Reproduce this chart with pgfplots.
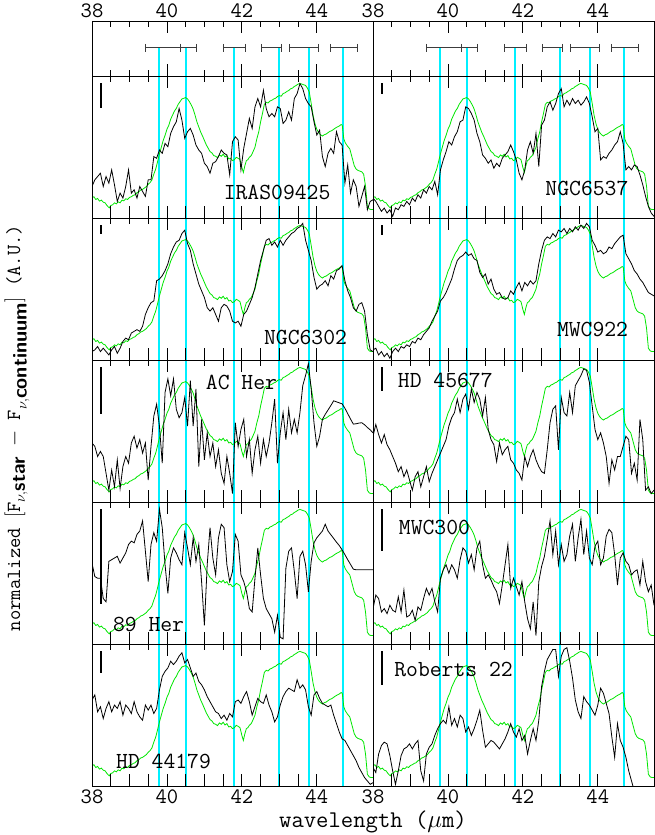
\documentclass[border=0pt]{standalone}
\usepackage{fontspec}
\usepackage{pgfplots}
\usepackage{pgfplotstable}
\pgfplotsset{compat=1.18}
\definecolor{specgreen}{RGB}{0,230,0}
\definecolor{linecyan}{RGB}{0,240,255}
\definecolor{ebgray}{RGB}{60,60,60}
\newcommand\lab{\ttfamily\fontsize{23}{25}\selectfont}
\newcommand\tlab{\ttfamily\fontsize{22}{24}\selectfont}

\pgfplotstableread{
x      IR  N37 N02 M922 ACH HD456 H89 M300 HD441 R22
38.000 350 385 410 405 260 240 195 330 180 380
38.075 330 395 405 400 270 205 235 290 165 395
38.150 320 410 395 420 300 235 240 300 215 340
38.225 310 425 410 410 285 260 240 340 200 315
38.300 350 415 400 425 300 235 300 330 235 305
38.375 320 430 410 415 350 265 310 345 205 310
38.450 340 420 420 430 400 280 190 320 185 345
38.525 300 440 405 410 340 300 185 335 215 390
38.600 345 415 395 400 390 320 180 340 195 430
38.675 395 420 415 410 310 345 175 295 205 390
38.750 370 405 400 395 395 330 195 340 185 345
38.825 385 410 380 400 330 360 180 275 225 325
38.900 350 395 370 390 300 340 165 355 195 320
38.975 300 405 375 395 320 370 140 350 205 310
39.050 370 385 355 380 260 400 130 335 220 325
39.125 360 395 350 385 240 360 135 365 185 310
39.200 385 375 345 370 275 345 110 325 215 300
39.275 350 385 350 375 250 390 100 335 230 390
39.350 365 360 335 360 290 360 70 300 240 420
39.425 380 370 300 350 260 330 160 270 195 340
39.500 330 350 280 340 370 375 250 290 210 320
39.575 330 360 265 320 270 350 140 270 195 310
39.650 260 335 260 305 180 330 105 310 220 285
39.725 265 375 200 290 145 310 130 340 205 265
39.800 240 300 195 260 210 290 35 240 150 250
39.875 250 270 185 250 320 270 90 215 110 240
39.950 220 245 170 235 110 250 200 200 95 250
40.025 230 215 150 215 70 210 285 225 85 200
40.100 190 225 120 195 120 185 180 200 65 255
40.175 170 200 100 165 70 170 150 215 75 235
40.250 155 185 85 140 160 130 165 240 65 260
40.325 115 155 80 130 185 170 185 185 50 225
40.400 150 150 60 125 170 130 200 150 40 235
40.475 205 110 50 115 125 115 105 160 70 275
40.550 185 115 90 125 210 160 150 195 60 260
40.625 175 130 110 120 75 100 200 170 85 285
40.700 195 150 150 135 210 140 120 215 110 265
40.775 225 190 180 140 100 110 190 150 100 240
40.850 240 215 210 175 330 130 140 130 125 210
40.925 250 255 230 190 190 180 250 200 135 270
41.000 280 265 250 180 310 125 380 240 150 320
41.075 290 280 280 210 230 220 200 230 170 310
41.150 310 270 290 195 300 250 90 245 185 300
41.225 280 295 280 225 260 265 180 265 200 305
41.300 275 280 300 240 330 315 230 280 215 315
41.375 260 290 320 235 280 260 120 315 220 325
41.450 240 265 280 250 350 295 80 260 235 310
41.525 250 255 270 255 380 280 90 200 225 295
41.600 255 245 275 250 300 270 200 140 240 275
41.675 315 225 290 230 350 310 250 270 220 250
41.750 215 245 320 240 410 320 220 240 230 275
41.825 200 270 325 220 200 340 110 265 185 290
41.900 210 310 320 205 270 350 130 290 180 265
41.975 300 330 335 230 220 370 230 250 190 300
42.050 235 300 300 205 190 300 250 310 170 285
42.125 190 240 290 215 300 330 280 360 155 340
42.200 145 215 270 200 250 300 330 390 185 300
42.275 175 250 250 210 350 280 340 310 225 265
42.350 110 190 220 200 280 310 240 410 200 300
42.425 85 290 180 150 240 330 150 250 175 240
42.500 110 165 140 110 320 345 230 205 185 140
42.575 60 150 110 80 250 350 300 175 190 95
42.650 115 110 80 70 300 280 330 125 165 60
42.725 140 95 75 75 260 200 345 70 195 45
42.800 130 120 95 60 200 160 360 170 215 30
42.875 140 100 85 70 130 150 400 100 245 30
42.950 110 70 100 50 320 280 350 200 230 110
43.025 115 55 80 55 230 125 415 140 195 50
43.100 160 110 95 45 170 170 420 190 170 30
43.175 150 90 80 60 250 180 210 170 155 25
43.250 125 105 70 45 160 110 160 115 145 65
43.325 150 85 60 55 230 170 150 80 150 115
43.400 85 100 55 40 190 90 220 190 155 180
43.475 70 90 45 50 230 75 300 120 120 215
43.550 40 105 40 35 170 60 175 65 145 235
43.625 55 95 30 45 90 40 160 170 135 170
43.700 85 80 80 30 60 45 200 100 150 185
43.775 100 100 110 40 25 80 280 180 200 195
43.850 110 140 140 80 100 150 190 200 225 210
43.925 155 185 190 95 200 220 135 145 165 225
44.000 195 175 225 115 270 250 120 130 155 195
44.075 180 270 215 110 240 230 110 200 175 145
44.150 260 260 210 120 190 260 100 180 190 160
44.225 290 265 200 115 175 300 80 115 195 190
44.300 250 250 215 100 162 380 100 95 200 220
44.375 235 240 185 105 149 310 111 105 195 290
44.450 250 225 195 90 135 340 122 170 225 350
44.525 185 215 170 80 138 300 133 260 250 250
44.600 215 185 165 70 141 300 143 180 275 300
44.675 225 220 155 65 144 270 156 165 295 320
44.750 340 300 200 120 157 240 170 190 300 350
44.825 285 290 230 135 173 250 185 200 315 390
44.900 370 300 250 150 189 350 199 230 330 420
44.975 330 285 280 170 204 320 213 220 345 450
45.050 350 290 290 180 203 370 215 215 360 nan
45.125 410 315 270 195 201 190 215 260 380 nan
45.200 380 345 265 205 200 250 215 190 395 nan
45.275 350 380 290 220 206 400 215 250 410 nan
45.350 420 410 360 235 214 390 215 280 420 nan
45.425 395 430 405 240 221 410 215 260 430 nan
45.500 390 440 410 245 230 400 215 320 425 nan
}\blk

\pgfplotstableread{
x y
38.00 375
38.05 372
38.10 380
38.15 377
38.20 385
38.25 382
38.30 388
38.35 390
38.40 398
38.46 405
38.50 398
38.55 396
38.60 390
38.65 393
38.70 387
38.75 390
38.80 382
38.85 384
38.90 378
38.95 380
39.00 374
39.05 372
39.10 368
39.15 366
39.20 360
39.25 357
39.30 352
39.35 350
39.40 346
39.45 342
39.50 335
39.55 330
39.60 322
39.65 305
39.70 290
39.75 268
39.80 245
39.85 225
39.90 205
39.95 190
40.00 172
40.05 160
40.10 142
40.15 130
40.20 118
40.25 110
40.30 98
40.35 90
40.40 82
40.45 80
40.50 78
40.55 82
40.60 90
40.65 100
40.70 112
40.75 130
40.80 150
40.85 165
40.90 180
40.95 192
41.00 205
41.05 218
41.10 228
41.15 238
41.20 242
41.25 250
41.30 252
41.35 256
41.40 248
41.45 252
41.50 246
41.55 254
41.60 250
41.65 260
41.70 258
41.75 265
41.80 262
41.85 255
41.90 258
41.95 262
42.00 285
42.04 300
42.08 280
42.12 265
42.16 262
42.20 255
42.25 250
42.30 238
42.35 225
42.40 200
42.45 180
42.50 150
42.55 125
42.60 98
42.65 92
42.70 94
42.75 88
42.80 86
42.85 82
42.90 80
42.95 75
43.00 72
43.05 74
43.10 66
43.15 64
43.20 60
43.25 57
43.30 52
43.35 50
43.40 45
43.45 42
43.50 38
43.55 36
43.60 38
43.65 40
43.70 42
43.75 50
43.80 62
43.85 95
43.90 130
43.95 155
44.00 172
44.05 182
44.10 188
44.15 192
44.20 188
44.25 186
44.30 182
44.35 178
44.40 176
44.45 172
44.50 168
44.55 165
44.60 162
44.65 158
44.68 160
44.72 200
44.76 212
44.82 222
44.88 230
44.94 255
45.00 280
45.05 290
45.10 294
45.15 296
45.20 298
45.25 305
45.30 340
45.35 400
45.40 408
45.45 410
45.50 410
}\grn

\pgfplotsset{
  base/.style={scale only axis, width=281pt, xmin=38, xmax=45.5,
    ytick=\empty, xtick={38,40,42,44}, minor x tick num=3, xticklabels={},
    tick align=inside, axis line style={line width=0.8pt},
    tick style={line width=0.8pt, black}, anchor=north west,
    xticklabel style={font=\tlab}, /pgf/number format/assume math mode=true},
  panelA/.style={base, height=142pt, ymin=14, ymax=435, y dir=reverse,
    xtick pos=right, major tick length=12pt, minor tick length=6pt},
  panelB/.style={base, height=142pt, ymin=14, ymax=435, y dir=reverse,
    xtick pos=left, major tick length=12pt, minor tick length=12pt},
}
\newcommand\cyanlines{\pgfplotsinvokeforeach{39.8,40.5,41.8,43.0,43.8,44.7}{\addplot[draw=linecyan, line width=2pt] coordinates {(##1,14) (##1,435)};}}
\newcommand\greenline{\addplot[specgreen, line width=0.8pt] table[x=x,y=y] {\grn};}
\newcommand\scalebar[1]{\addplot[black, line width=1.8pt] coordinates {(38.25,36) (38.25,#1)};}
\newcommand\ebar[2]{\addplot[ebgray, line width=1pt, mark=|, mark size=4pt] coordinates {(#1,0.51) (#2,0.51)};}
\newcommand\toppanel[1]{%
\begin{axis}[base, height=55pt, ymin=0, ymax=1, at={(#1pt,-21pt)},
  xtick pos=both, major tick length=12pt, minor tick length=6pt,
  xticklabel pos=right, xticklabels={38,40,42,44}]
\pgfplotsinvokeforeach{39.8,40.5,41.8,43.0,43.8,44.7}{\addplot[draw=linecyan, line width=2pt] coordinates {(##1,0) (##1,0.51)};}
\ebar{39.43}{40.35}
\ebar{40.35}{40.79}
\ebar{41.51}{42.10}
\ebar{42.53}{43.07}
\ebar{43.28}{44.05}
\ebar{44.36}{45.09}
\end{axis}}

\begin{document}
\begin{tikzpicture}
\useasboundingbox (0,0) rectangle (654pt,-835pt);

% ---------- top panels with error bars ----------
\toppanel{92}
\toppanel{373}

% ---------- row 1 ----------
\begin{axis}[panelA, at={(92pt,-76pt)}]
\cyanlines \greenline \scalebar{110}
\node[font=\lab] at (axis cs:42.94,359) {IRAS09425};
\end{axis}
\begin{axis}[panelB, ymin=17, ymax=445, at={(92pt,-76pt)}]
\addplot[black, line width=0.8pt] table[x=x,y=IR] {\blk};
\end{axis}
\begin{axis}[panelA, at={(373pt,-76pt)}]
\cyanlines \greenline \scalebar{68}
\node[font=\lab] at (axis cs:43.71,347) {NGC6537};
\end{axis}
\begin{axis}[panelB, ymin=17, ymax=445, at={(373pt,-76pt)}]
\addplot[black, line width=0.8pt] table[x=x,y=N37] {\blk};
\end{axis}

% ---------- row 2 ----------
\begin{axis}[panelA, at={(92pt,-218pt)}]
\cyanlines \greenline \scalebar{62}
\node[font=\lab] at (axis cs:43.70,368) {NGC6302};
\end{axis}
\begin{axis}[panelB, at={(92pt,-218pt)}]
\addplot[black, line width=0.8pt] table[x=x,y=N02] {\blk};
\end{axis}
\begin{axis}[panelA, at={(373pt,-218pt)}]
\cyanlines \greenline \scalebar{65}
\node[font=\lab] at (axis cs:43.86,345) {MWC922};
\end{axis}
\begin{axis}[panelB, at={(373pt,-218pt)}]
\addplot[black, line width=0.8pt] table[x=x,y=M922] {\blk};
\end{axis}

% ---------- row 3 ----------
\begin{axis}[panelA, at={(92pt,-360pt)}]
\cyanlines \greenline \scalebar{175}
\node[font=\lab] at (axis cs:41.99,80) {AC Her};
\end{axis}
\begin{axis}[panelB, at={(92pt,-360pt)}]
\addplot[black, line width=0.8pt] table[x=x,y=ACH] {\blk};
\end{axis}
\begin{axis}[panelA, at={(373pt,-360pt)}]
\cyanlines \greenline \scalebar{105}
\node[font=\lab] at (axis cs:39.93,75) {HD 45677};
\end{axis}
\begin{axis}[panelB, at={(373pt,-360pt)}]
\addplot[black, line width=0.8pt] table[x=x,y=HD456] {\blk};
\end{axis}

% ---------- row 4 ----------
\begin{axis}[panelA, at={(92pt,-502pt)}]
\cyanlines \greenline \scalebar{315}
\node[font=\lab] at (axis cs:39.51,378) {89 Her};
\end{axis}
\begin{axis}[panelB, at={(92pt,-502pt)}]
\addplot[black, line width=0.8pt] table[x=x,y=H89] {\blk};
\end{axis}
\begin{axis}[panelA, at={(373pt,-502pt)}]
\cyanlines \greenline \scalebar{158}
\node[font=\lab] at (axis cs:39.64,90) {MWC300};
\end{axis}
\begin{axis}[panelB, at={(373pt,-502pt)}]
\addplot[black, line width=0.8pt] table[x=x,y=M300] {\blk};
\end{axis}

% ---------- row 5 ----------
\begin{axis}[panelA, at={(92pt,-644pt)}]
\cyanlines \greenline \scalebar{100}
\node[font=\lab] at (axis cs:39.91,362) {HD 44179};
\end{axis}
\begin{axis}[panelB, at={(92pt,-644pt)}, xticklabels={38,40,42,44}]
\addplot[black, line width=0.8pt] table[x=x,y=HD441] {\blk};
\end{axis}
\begin{axis}[panelA, at={(373pt,-644pt)}]
\cyanlines \greenline \scalebar{135}
\node[font=\lab] at (axis cs:40.15,90) {Roberts 22};
\end{axis}
\begin{axis}[panelB, at={(373pt,-644pt)}, xticklabels={38,40,42,44}]
\addplot[black, line width=0.8pt] table[x=x,y=R22] {\blk};
\end{axis}

% ---------- axis titles ----------
\node[font=\ttfamily\fontsize{24}{26}\selectfont] at (373pt,-822pt) {wavelength ($\mu$m)};
\node[rotate=90, inner sep=0pt, font=\ttfamily\fontsize{20}{22}\selectfont] at (17pt,-428pt)
  {normalized $\bigl[$F$_{\nu,\textsf{\textbf{star}}}$ $-$ F$_{\nu,\textsf{\textbf{continuum}}}\bigr]$ (A.U.)};
\end{tikzpicture}
\end{document}
